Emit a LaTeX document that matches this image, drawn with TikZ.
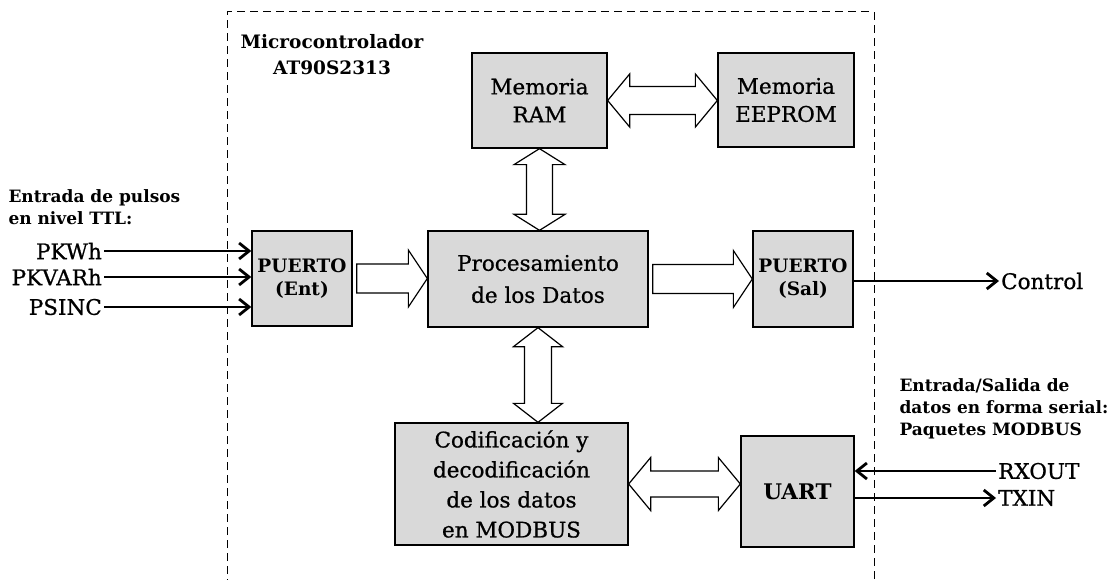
\documentclass[tikz,border=0pt]{standalone}
\usepackage{fontspec}
\setmainfont{DejaVu Serif}[UprightFeatures={FakeBold=0.8}]
\usetikzlibrary{calc,arrows.meta}
\definecolor{boxfill}{RGB}{217,217,217}

% double-headed horizontal block arrow: tips #1 (left) and #2 (right),
% head length #3, head half-width #4, shaft half-width #5
\newcommand\blockdh[5]{%
  \draw[blockarrow] let \p1=(#1), \p2=(#2) in
    (\x1,\y1) -- (\x1+#3,\y1+#4) -- (\x1+#3,\y1+#5) -- (\x2-#3,\y1+#5)
    -- (\x2-#3,\y1+#4) -- (\x2,\y1) -- (\x2-#3,\y1-#4) -- (\x2-#3,\y1-#5)
    -- (\x1+#3,\y1-#5) -- (\x1+#3,\y1-#4) -- cycle;}
% double-headed vertical block arrow: tips #1 (top) and #2 (bottom)
\newcommand\blockdv[5]{%
  \draw[blockarrow] let \p1=(#1), \p2=(#2) in
    (\x1,\y1) -- (\x1+#4,\y1-#3) -- (\x1+#5,\y1-#3) -- (\x1+#5,\y2+#3)
    -- (\x1+#4,\y2+#3) -- (\x1,\y2) -- (\x1-#4,\y2+#3) -- (\x1-#5,\y2+#3)
    -- (\x1-#5,\y1-#3) -- (\x1-#4,\y1-#3) -- cycle;}
% single-headed horizontal block arrow: tail #1, tip #2
\newcommand\blocksh[5]{%
  \draw[blockarrow] let \p1=(#1), \p2=(#2) in
    (\x1,\y1+#5) -- (\x2-#3,\y1+#5) -- (\x2-#3,\y1+#4) -- (\x2,\y1)
    -- (\x2-#3,\y1-#4) -- (\x2-#3,\y1-#5) -- (\x1,\y1-#5) -- cycle;}

\begin{document}
\begin{tikzpicture}[x=1bp,y=-1bp,
  block/.style={draw, line width=1.3bp, fill=boxfill, align=center, inner sep=0pt},
  blockarrow/.style={draw, fill=white, line width=1.2bp, line join=miter},
  sig/.style={line width=2.8bp, -{Straight Barb[length=10bp,width=16bp]}},
  frame/.style={line width=1bp, dash pattern=on 8bp off 5bp},
  reg/.style={font=\fontsize{21.5bp}{#1bp}\selectfont},
  reg/.default=28,
  bld/.style={font=\fontsize{18.5bp}{#1bp}\selectfont\bfseries},
  bld/.default=24,
  bldsm/.style={font=\fontsize{17bp}{#1bp}\selectfont\bfseries},
  bldsm/.default=22,
  lbl/.style={inner sep=2bp}
]
\useasboundingbox (0,0) rectangle (1109,580);

% microcontroller boundary
\draw[frame] (227,600) -- (227,12) -- (874,12) -- (874,600);
\node[bld=26, align=center] (mcu) at (332,55) {Microcontrolador\\AT90S2313};

% functional blocks
\node[block, reg=28, minimum width=135bp, minimum height=95bp] (ram) at (539.5,100.5) {Memoria\\RAM};
\node[block, reg=28, minimum width=136bp, minimum height=94bp] (eeprom) at (786,100) {Memoria\\EEPROM};
\node[block, reg=32, minimum width=220bp, minimum height=96bp] (proc) at (538,279) {Procesamiento\\de los Datos};
\node[block, bld=23, minimum width=100bp, minimum height=95bp] (pent) at (302,278.5) {PUERTO\\(Ent)};
\node[block, bld=23, minimum width=100bp, minimum height=96bp] (psal) at (803,279) {PUERTO\\(Sal)};
\node[block, reg=30, minimum width=233bp, minimum height=122bp] (cod) at (511.5,484) {Codificación y\\decodificación\\de los datos\\en MODBUS};
\node[block, font=\fontsize{21.5bp}{26bp}\selectfont\bfseries, minimum width=113bp, minimum height=111bp] (uart) at (797.5,491.5) {UART};

% data paths between blocks
\blockdh{ram.east}{eeprom.west}{22bp}{26.5bp}{14bp}
\blockdv{ram.south}{proc.north}{16bp}{25.5bp}{13bp}
\blockdv{proc.south}{cod.north}{19bp}{24.5bp}{13.5bp}
\blockdh{cod.east}{uart.west}{22bp}{26.5bp}{13bp}
\coordinate (pentout) at ($(pent.east)+(4,0)$);
\coordinate (procout) at ($(proc.east)+(4,0)$);
\blocksh{pentout}{proc.west}{19bp}{28.5bp}{14.5bp}
\blocksh{procout}{psal.west}{19bp}{28.5bp}{14.5bp}

% pulse inputs
\node[bldsm=22, align=left, anchor=west] (inlbl) at (5,207) {Entrada de pulsos\\en nivel TTL:};
\node[reg, lbl, anchor=east] (pkwh) at (104,251) {PKWh};
\node[reg, lbl, anchor=east] (pkvarh) at (104,277) {PKVARh};
\node[reg, lbl, anchor=east] (psinc) at (104,307) {PSINC};
\draw[sig] (pkwh.east) -- (pkwh.east -| pent.west);
\draw[sig] (pkvarh.east) -- (pkvarh.east -| pent.west);
\draw[sig] (psinc.east) -- (psinc.east -| pent.west);

% control output
\node[reg, lbl, anchor=west] (ctrl) at (999,281) {Control};
\draw[sig] (psal.east |- ctrl.west) -- (ctrl.west);

% serial MODBUS link
\node[bldsm=22, align=left, anchor=west] (serlbl) at (896,409) {Entrada/Salida de\\datos en forma serial:\\Paquetes MODBUS};
\node[reg, lbl, anchor=west] (rx) at (996,471) {RXOUT};
\node[reg, lbl, anchor=west] (tx) at (996,498) {TXIN};
\draw[sig] (rx.west) -- (rx.west -| uart.east);
\draw[sig] (uart.east |- tx.west) -- (tx.west);
\end{tikzpicture}
\end{document}
